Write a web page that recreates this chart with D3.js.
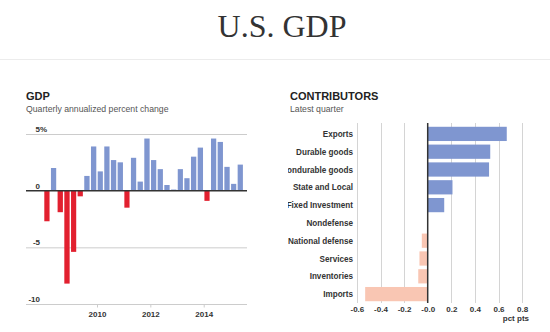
<!DOCTYPE html>
<html>
<head>
<meta charset="utf-8">
<script src="https://cdn.jsdelivr.net/npm/d3@7"></script>
<style>
  body { margin: 0; background: #fff; }
  svg { display: block; font-family: "Liberation Sans", Arial, sans-serif; }
  .title { font-family: "Liberation Serif", "Times New Roman", serif; font-size: 32px; fill: #333; }
  .head { font-size: 11px; font-weight: bold; fill: #222; }
  .sub { font-size: 8.7px; fill: #555; }
  .tick text, .lbl { font-size: 8px; font-weight: bold; fill: #333; }
  .cat { font-size: 8.15px; }
</style>
</head>
<body>
<svg id="chart" width="550" height="332"></svg>
<script>
// quarterly GDP, annualized percent change
const quarters = [
  "2008Q1", "2008Q2", "2008Q3", "2008Q4", "2009Q1", "2009Q2", "2009Q3", "2009Q4",
  "2010Q1", "2010Q2", "2010Q3", "2010Q4", "2011Q1", "2011Q2", "2011Q3", "2011Q4",
  "2012Q1", "2012Q2", "2012Q3", "2012Q4", "2013Q1", "2013Q2", "2013Q3", "2013Q4",
  "2014Q1", "2014Q2", "2014Q3", "2014Q4", "2015Q1", "2015Q2"
];
const gdpChange = [
  -2.7, 2.0, -1.9, -8.2, -5.4, -0.5, 1.3, 3.9,
  1.7, 3.9, 2.7, 2.5, -1.5, 2.9, 0.8, 4.6,
  2.7, 1.9, 0.5, 0.1, 1.9, 1.1, 3.0, 3.8,
  -0.9, 4.6, 4.3, 2.1, 0.6, 2.3
];
const gdpTicks = [5, 0, -5, -10];
const yearTicks = ["2010", "2012", "2014"];

// contributions to latest quarter, percentage points
const components = [
  "Exports", "Durable goods", "Nondurable goods", "State and Local", "Fixed Investment",
  "Nondefense", "National defense", "Services", "Inventories", "Imports"
];
const contribution = [0.67, 0.53, 0.52, 0.21, 0.14, 0, -0.05, -0.07, -0.08, -0.53];
const pctTicks = [-0.6, -0.4, -0.2, 0, 0.2, 0.4, 0.6, 0.8];
const pctTickLabels = ["-0.6", "-0.4", "-0.2", "-0.0", "0.2", "0.4", "0.6", "0.8"];

const blue = "#7f96d0", red = "#e2202f", pink = "#f9c6b3";

const svg = d3.select("#chart");

svg.append("text").attr("class", "title")
  .attr("x", 282).attr("y", 37).attr("text-anchor", "middle")
  .text("U.S. GDP");
svg.append("line")
  .attr("x1", 0).attr("x2", 550).attr("y1", 59.5).attr("y2", 59.5)
  .style("stroke", "#ececec");

// ---- GDP panel ----
const gdp = svg.append("g");
gdp.append("text").attr("class", "head").attr("x", 26).attr("y", 99.5).text("GDP");
gdp.append("text").attr("class", "sub").attr("x", 26).attr("y", 111.5)
  .text("Quarterly annualized percent change");

const parseQ = s => new Date(+s.slice(0, 4), (+s.slice(5) - 1) * 3, 1);
const x = d3.scaleTime()
  .domain([parseQ("2008Q1"), parseQ("2015Q3")])
  .range([43.6, 243.6]);
const y = d3.scaleLinear().domain([-10, 5]).range([304, 134]);

gdp.selectAll("line.grid")
  .data(gdpTicks.filter(d => d !== 0))
  .enter().append("line")
  .attr("class", "grid")
  .attr("x1", 26).attr("x2", 247)
  .attr("y1", d => y(d) + 0.5).attr("y2", d => y(d) + 0.5)
  .style("stroke", "#ccc");

gdp.selectAll("text.ylab")
  .data(gdpTicks)
  .enter().append("text")
  .attr("class", "lbl ylab")
  .attr("x", 40).attr("y", d => y(d) - 2)
  .attr("text-anchor", "end")
  .text(d => d);
gdp.append("text").attr("class", "lbl")
  .attr("x", 40).attr("y", y(5) - 2).text("%");

const nextQ = d => d3.timeMonth.offset(d, 3);
gdp.selectAll("rect")
  .data(quarters.map((q, i) => ({ date: parseQ(q), value: gdpChange[i] })))
  .enter().append("rect")
  .attr("x", d => x(d.date) + 0.7)
  .attr("width", d => x(nextQ(d.date)) - x(d.date) - 1.4)
  .attr("y", d => y(Math.max(0, d.value)))
  .attr("height", d => Math.abs(y(d.value) - y(0)))
  .style("fill", d => d.value < 0 ? red : blue);

gdp.append("line")
  .attr("x1", 26).attr("x2", 247).attr("y1", y(0)).attr("y2", y(0))
  .style("stroke", "#333").style("stroke-width", 1.5);

const xAxis = d3.axisBottom(x)
  .tickValues(yearTicks.map(t => new Date(+t, 0, 1)))
  .tickFormat(d3.timeFormat("%Y"))
  .tickSize(3).tickPadding(4);
gdp.append("g")
  .attr("transform", "translate(0," + (y(-10) + 0.5) + ")")
  .call(xAxis)
  .call(a => a.select(".domain").remove())
  .call(a => a.selectAll(".tick line").style("stroke", "#ccc"));

// ---- contributors panel ----
const con = svg.append("g");
svg.append("clipPath").attr("id", "panel")
  .append("rect").attr("x", 288).attr("y", 60).attr("width", 262).attr("height", 272);
con.attr("clip-path", "url(#panel)");

con.append("text").attr("class", "head").attr("x", 290).attr("y", 99.5).text("CONTRIBUTORS");
con.append("text").attr("class", "sub").attr("x", 290).attr("y", 111.5).text("Latest quarter");

const cx = d3.scaleLinear().domain([-0.6, 0.8]).range([356.9, 522.1]);
const cy = d3.scaleBand().domain(components).range([125, 303]).paddingInner(0.2).paddingOuter(0.1);

con.selectAll("line.vgrid")
  .data(pctTicks.filter(d => d !== 0))
  .enter().append("line")
  .attr("class", "vgrid")
  .attr("x1", d => Math.round(cx(d)) + 0.5).attr("x2", d => Math.round(cx(d)) + 0.5)
  .attr("y1", 123).attr("y2", 303)
  .style("stroke", "#d4d4d4");

con.selectAll("rect")
  .data(components.map((c, i) => ({ name: c, value: contribution[i] })))
  .enter().append("rect")
  .attr("x", d => cx(Math.min(0, d.value)))
  .attr("y", d => cy(d.name))
  .attr("width", d => Math.abs(cx(d.value) - cx(0)))
  .attr("height", cy.bandwidth())
  .style("fill", d => d.value < 0 ? pink : blue);

con.append("line")
  .attr("x1", cx(0)).attr("x2", cx(0)).attr("y1", 123).attr("y2", 303)
  .style("stroke", "#333").style("stroke-width", 1.5);

con.selectAll("text.cat")
  .data(components)
  .enter().append("text")
  .attr("class", "lbl cat")
  .attr("x", 353).attr("y", d => cy(d) + cy.bandwidth() / 2 + 3)
  .attr("text-anchor", "end")
  .text(d => d);

const cAxis = d3.axisBottom(cx)
  .tickValues(pctTicks)
  .tickFormat((d, i) => pctTickLabels[i])
  .tickSize(0).tickPadding(3);
con.append("g")
  .attr("transform", "translate(0,303)")
  .call(cAxis)
  .call(a => a.select(".domain").remove());

con.append("text").attr("class", "lbl")
  .attr("x", 529).attr("y", 321).attr("text-anchor", "end")
  .text("pct pts");
</script>
</body>
</html>
